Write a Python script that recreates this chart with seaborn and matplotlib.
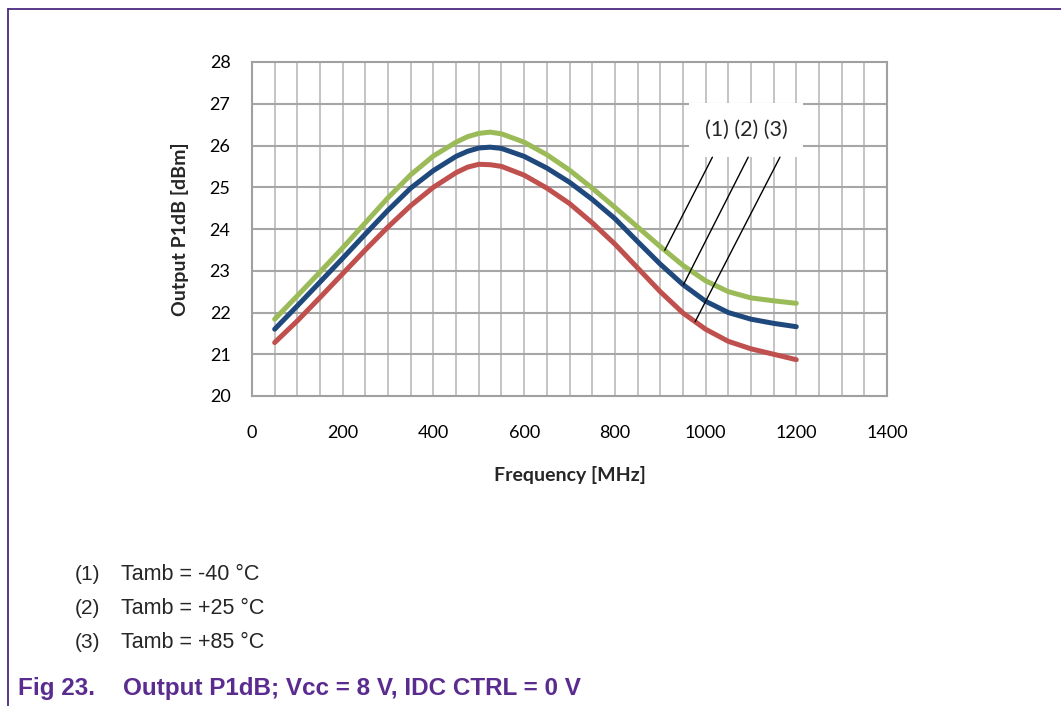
import numpy as np
import pandas as pd
import matplotlib
matplotlib.use("Agg")
import matplotlib.pyplot as plt
import seaborn as sns
from matplotlib.patches import Rectangle

# ---------------- data ----------------
freq_mhz = [50, 100, 150, 200, 250, 300, 350, 400, 450, 475, 500, 525, 550, 600,
            650, 700, 750, 800, 850, 900, 950, 1000, 1050, 1100, 1150, 1200]
p1db_m40 = [21.84, 22.40, 22.97, 23.55, 24.15, 24.75, 25.30, 25.75, 26.08, 26.21, 26.29, 26.32,
            26.28, 26.08, 25.78, 25.41, 24.98, 24.52, 24.05, 23.58, 23.13, 22.76, 22.50,
            22.35, 22.28, 22.22]
p1db_p25 = [21.60, 22.16, 22.73, 23.30, 23.88, 24.45, 24.98, 25.40, 25.74, 25.86, 25.94, 25.96,
            25.93, 25.74, 25.46, 25.12, 24.71, 24.25, 23.70, 23.16, 22.67, 22.27, 22.00,
            21.84, 21.74, 21.66]
p1db_p85 = [21.28, 21.80, 22.36, 22.93, 23.50, 24.05, 24.56, 25.00, 25.35, 25.48, 25.55, 25.54,
            25.50, 25.29, 24.98, 24.61, 24.15, 23.64, 23.07, 22.50, 21.99, 21.60, 21.31,
            21.13, 21.00, 20.87]
series_names = ["(1)", "(2)", "(3)"]
legend_lines = ["Tamb = -40 \u00b0C", "Tamb = +25 \u00b0C", "Tamb = +85 \u00b0C"]
colors = ["#9BBB59", "#1F497D", "#C0504D"]
x_ticks = [0, 200, 400, 600, 800, 1000, 1200, 1400]
y_ticks = [20, 21, 22, 23, 24, 25, 26, 27, 28]
callout_tip_freq = [910, 951, 977]       # where leader lines touch curves
callout_start_freq = [1015, 1094, 1164]  # where leader lines leave the label box
callout_start_y = 25.72
label_box = (963, 25.72, 252, 1.30)      # x, y, width, height (data units)

df = pd.DataFrame({
    "freq": freq_mhz * 3,
    "p1db": p1db_m40 + p1db_p25 + p1db_p85,
    "series": sum([[s] * len(freq_mhz) for s in series_names], []),
})

# ---------------- style ----------------
sns.set_style("white")
plt.rcParams["font.family"] = ["Lato", "DejaVu Sans"]

fig = plt.figure(figsize=(10.61, 7.06), dpi=100)
ax = fig.add_axes([252 / 1061, 1 - 396 / 706, 635 / 1061, 334 / 706])

sns.lineplot(data=df, x="freq", y="p1db", hue="series", palette=colors,
             linewidth=3.6, legend=False, ax=ax, zorder=3)
for line in ax.lines:
    line.set_solid_capstyle("round")
    line.set_solid_joinstyle("round")

ax.set_xlim(0, 1400)
ax.set_ylim(20, 28)
ax.set_xticks(x_ticks)
ax.set_yticks(y_ticks)
ax.tick_params(axis="both", which="both", length=0, labelsize=13, colors="black")
ax.tick_params(axis="x", pad=21)
ax.tick_params(axis="y", pad=15.5)

ax.grid(False)
for xv in np.arange(50, 1400, 50):
    ax.axvline(xv, color="#C4C4C4", lw=1.4, zorder=1)
for yv in y_ticks[1:-1]:
    ax.axhline(yv, color="#A6A6A6", lw=1.5, zorder=1.5)
for sp in ax.spines.values():
    sp.set_color("#A0A0A0")
    sp.set_linewidth(1.5)
    sp.set_visible(True)

ax.set_xlabel("Frequency [MHz]", fontsize=14, fontweight="bold")
ax.set_ylabel("Output P1dB [dBm]", fontsize=14, fontweight="bold")
ax.xaxis.set_label_coords(0.5, -0.2365)
ax.xaxis.label.set_va("center")
ax.yaxis.set_label_coords(-0.1134, 0.5)
ax.yaxis.label.set_va("center")

# label box with callouts
bx, by, bw, bh = label_box
ax.add_patch(Rectangle((bx, by), bw, bh, facecolor="white", edgecolor="none",
                       zorder=2, clip_on=False))
ax.text(bx + bw / 2, by + bh / 2, " ".join(series_names),
        ha="center", va="center", fontsize=15.5, zorder=4)
for yvals, ftip, fstart in zip([p1db_m40, p1db_p25, p1db_p85],
                               callout_tip_freq, callout_start_freq):
    ytip = float(np.interp(ftip, freq_mhz, yvals))
    ax.plot([fstart, ftip], [callout_start_y, ytip], color="black", lw=1.0, zorder=4)

# notes below chart
legend_y = [575, 608, 642]
for name, txt, yp in zip(series_names, legend_lines, legend_y):
    fig.text(75 / 1061, 1 - yp / 706, name, fontsize=15, va="center", ha="left",
             family=["Liberation Sans", "DejaVu Sans"])
    fig.text(121 / 1061, 1 - yp / 706, txt, fontsize=15.5, va="center", ha="left",
             family=["Liberation Sans", "DejaVu Sans"])

purple = "#5B2C8F"
fig.text(18 / 1061, 1 - 689 / 706, "Fig 23.", fontsize=17.5, fontweight="bold",
         color=purple, va="center", ha="left", family=["Liberation Sans", "DejaVu Sans"])
fig.text(123 / 1061, 1 - 689 / 706, "Output P1dB; Vcc = 8 V, IDC CTRL = 0 V", fontsize=17.5,
         fontweight="bold", color=purple, va="center", ha="left",
         family=["Liberation Sans", "DejaVu Sans"])

# page frame (top and left rules)
border = "#4B2A80"
fig.add_artist(plt.Line2D([8 / 1061, 1], [1 - 9 / 706, 1 - 9 / 706],
                          transform=fig.transFigure, color=border, lw=1.3))
fig.add_artist(plt.Line2D([8 / 1061, 8 / 1061], [0, 1 - 9 / 706],
                          transform=fig.transFigure, color=border, lw=1.3))

fig.savefig("out.png", dpi=100, facecolor="white")
